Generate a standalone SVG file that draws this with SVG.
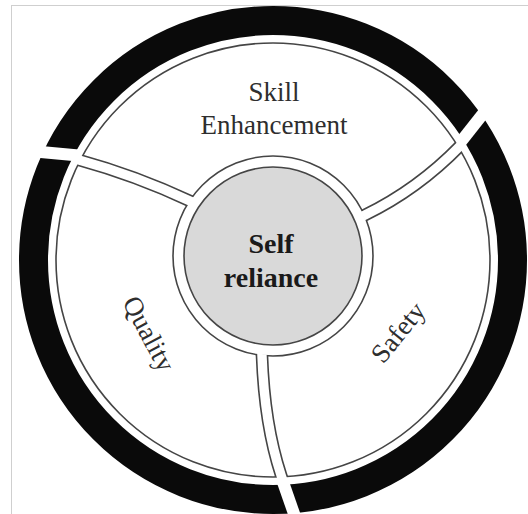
<svg xmlns="http://www.w3.org/2000/svg" width="528" height="514" viewBox="0 0 528 514">
  <style>
    .line { fill: none; stroke: #454545; stroke-width: 1.6; }
    .gap { fill: none; stroke: #ffffff; stroke-width: 12; }
    .bandOut { fill: none; stroke: #454545; stroke-width: 12.6; }
    .bandIn { fill: none; stroke: #ffffff; stroke-width: 9.4; }
    .lbl { font-family: "Liberation Serif", "Times New Roman", serif; font-size: 27px; fill: #2e2e2e; text-anchor: middle; }
    .ctr { font-family: "Liberation Serif", "Times New Roman", serif; font-size: 28px; font-weight: bold; fill: #1a1a1a; text-anchor: middle; }
  </style>
  <defs>
    <clipPath id="annulus">
      <path clip-rule="evenodd" d="M 490,260 A 217,217 0 1,0 56,260 A 217,217 0 1,0 490,260 Z M 373,256 A 100,100 0 1,0 173,256 A 100,100 0 1,0 373,256 Z"/>
    </clipPath>
    <clipPath id="annulusWide">
      <path clip-rule="evenodd" d="M 491.5,260 A 218.5,218.5 0 1,0 54.5,260 A 218.5,218.5 0 1,0 491.5,260 Z M 371.5,256 A 98.5,98.5 0 1,0 174.5,256 A 98.5,98.5 0 1,0 371.5,256 Z"/>
    </clipPath>
  </defs>
  <rect x="0" y="0" width="528" height="514" fill="#ffffff"/>
  <rect x="11.5" y="5.5" width="540" height="540" fill="none" stroke="#cfcfcf" stroke-width="1"/>

  <g id="outer-ring">
    <circle cx="273" cy="260" r="239.5" fill="none" stroke="#0a0a0a" stroke-width="29"/>
    <path class="gap" d="M 84,156 L 30,151"/>
    <path class="gap" d="M 452,153 L 497,96"/>
    <path class="gap" d="M 276,462 L 299,528"/>
  </g>

  <g id="segments">
    <circle class="line" cx="273" cy="260" r="217"/>
    <circle class="line" cx="273" cy="256" r="100"/>
  </g>

  <g id="connectors">
    <g clip-path="url(#annulus)">
      <path class="bandOut" d="M 201,206 L 190,201 Q 135.5,175.5 79,160 L 66,156.4"/>
      <path class="bandOut" d="M 354,220 L 365,215 Q 417.5,189.5 460,146 L 469,137"/>
      <path class="bandOut" d="M 261.6,344 L 262,356 Q 264.5,424.5 281,475 L 285,487"/>
    </g>
    <g clip-path="url(#annulusWide)">
      <path class="bandIn" d="M 201,206 L 190,201 Q 135.5,175.5 79,160 L 66,156.4"/>
      <path class="bandIn" d="M 354,220 L 365,215 Q 417.5,189.5 460,146 L 469,137"/>
      <path class="bandIn" d="M 261.6,344 L 262,356 Q 264.5,424.5 281,475 L 285,487"/>
    </g>
  </g>

  <g id="skill-enhancement">
    <text class="lbl" x="274" y="101">Skill</text>
    <text class="lbl" x="274" y="134">Enhancement</text>
  </g>

  <g id="quality">
    <text class="lbl" transform="translate(141,338) rotate(62)">Quality</text>
  </g>

  <g id="safety">
    <text class="lbl" transform="translate(405,338) rotate(-51)">Safety</text>
  </g>

  <g id="self-reliance">
    <circle cx="273" cy="256" r="89" fill="#d9d9d9" stroke="#454545" stroke-width="1.6"/>
    <text class="ctr" x="271" y="253">Self</text>
    <text class="ctr" x="271" y="287">reliance</text>
  </g>
</svg>
